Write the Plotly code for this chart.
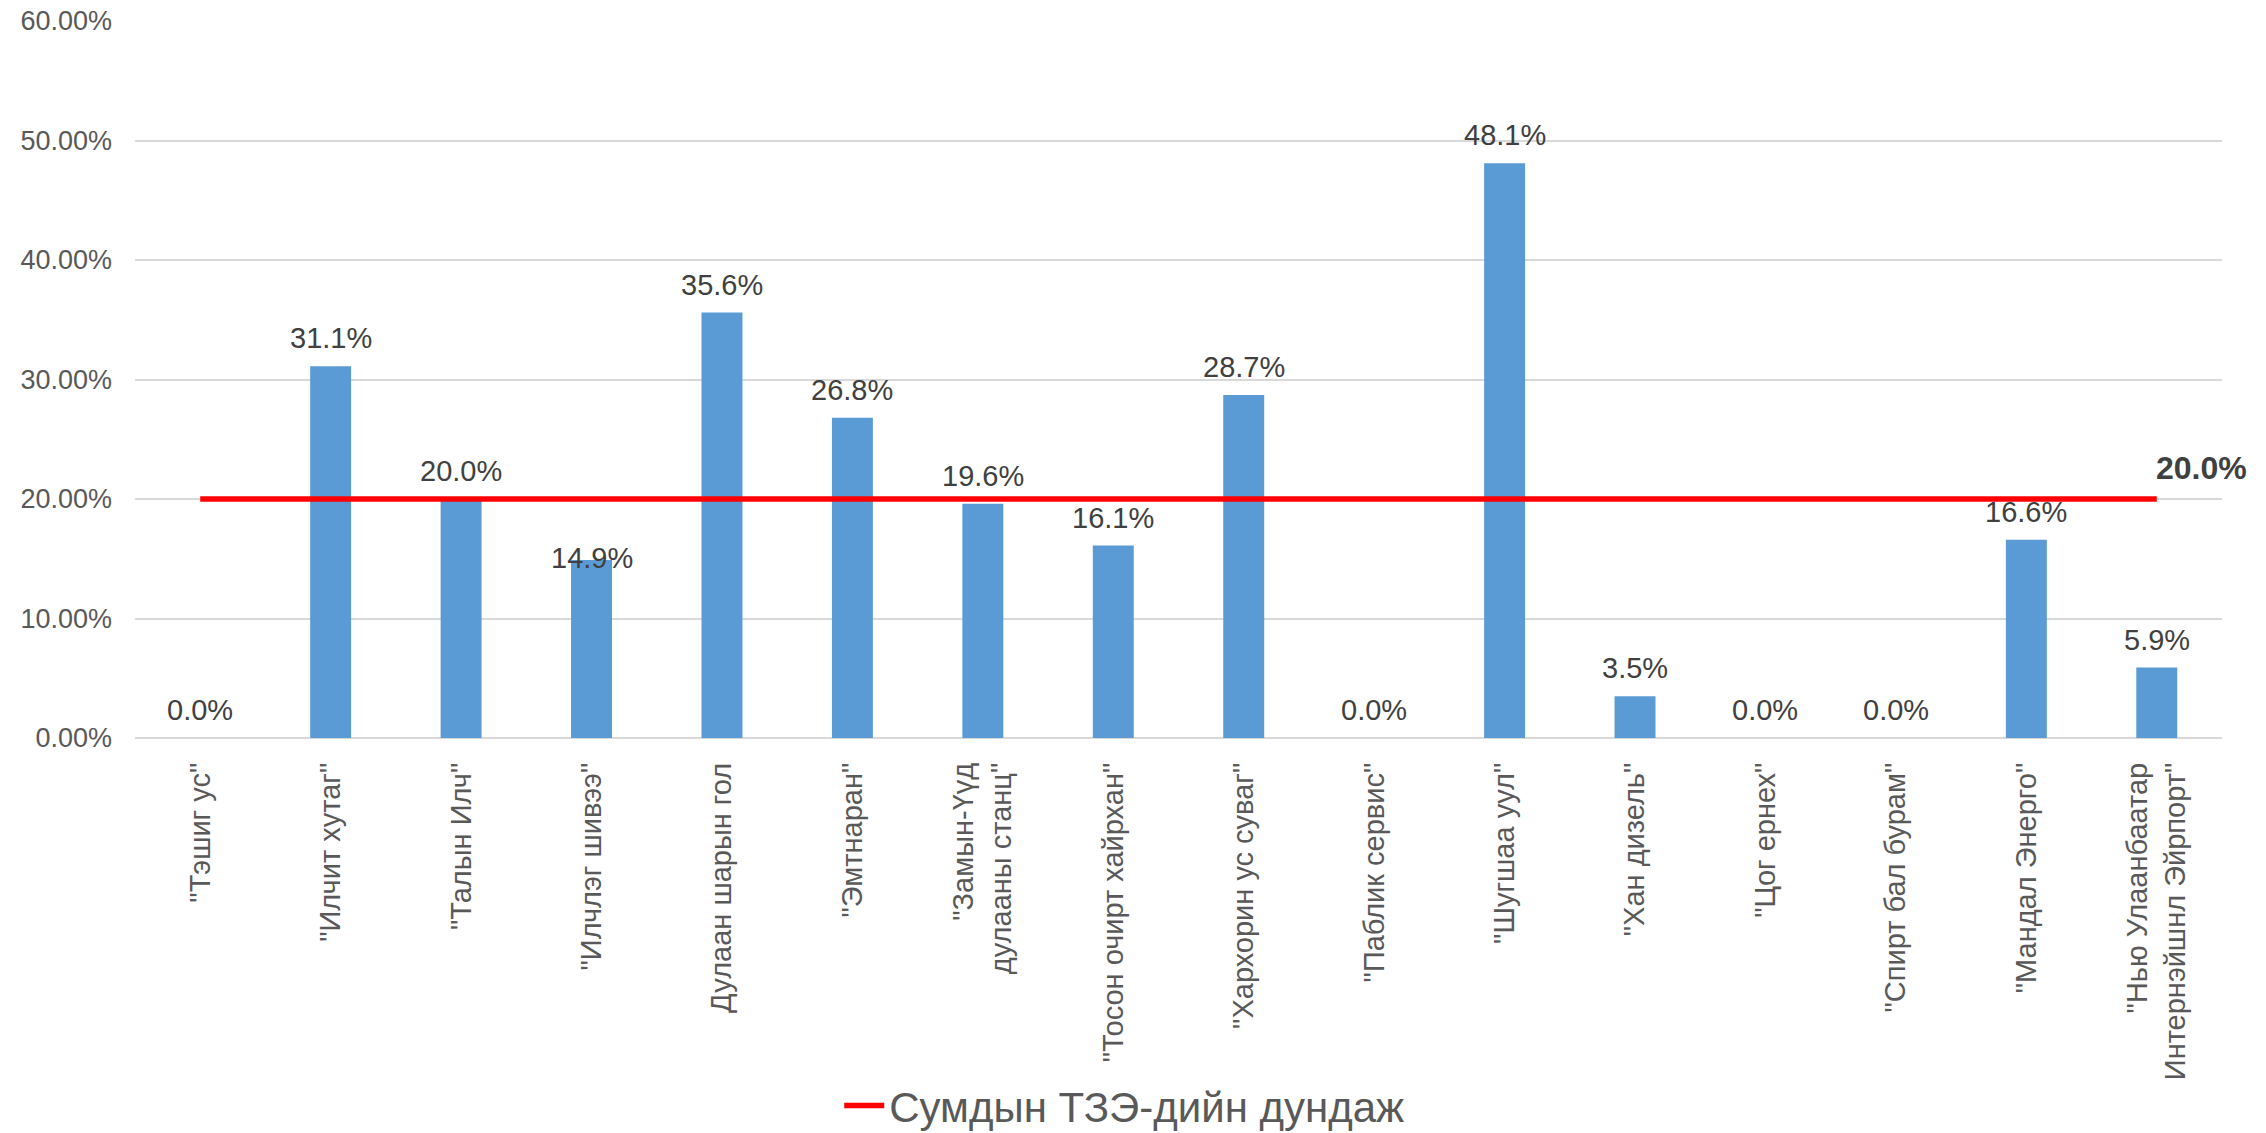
import plotly.graph_objects as go

categories = [
    '"Тэшиг ус"',
    '"Илчит хутаг"',
    '"Талын Илч"',
    '"Илчлэг шивээ"',
    'Дулаан шарын гол',
    '"Эмтнаран"',
    '"Замын-Үүд<br>дулааны станц"',
    '"Тосон очирт хайрхан"',
    '"Хархорин ус суваг"',
    '"Паблик сервис"',
    '"Шугшаа уул"',
    '"Хан дизель"',
    '"Цог ернех"',
    '"Спирт бал бурам"',
    '"Мандал Энерго"',
    '"Нью Улаанбаатар<br>Интернэйшнл Эйрпорт"',
]
values = [0.0, 0.311, 0.200, 0.149, 0.356, 0.268, 0.196, 0.161, 0.287, 0.0,
          0.481, 0.035, 0.0, 0.0, 0.166, 0.059]
average = [0.200] * len(categories)
legend_name = "Сумдын ТЗЭ-дийн дундаж"
y_ticks = [0, 0.1, 0.2, 0.3, 0.4, 0.5, 0.6]

FONT = "Arial, Liberation Sans, sans-serif"

fig = go.Figure()
fig.add_trace(go.Bar(
    x=categories, y=values,
    marker=dict(color="#5B9BD5", line=dict(width=0)),
    showlegend=False,
    hoverinfo="x+y",
))
fig.add_trace(go.Scatter(
    x=categories, y=average,
    mode="lines",
    name=legend_name,
    line=dict(color="#FF0000", width=5.5),
    cliponaxis=False,
))

# label for the last point of the average line
fig.add_annotation(
    x=categories[-1], y=average[-1], text=f"<b>{average[-1]*100:.1f}%</b>",
    showarrow=False, xanchor="left", yanchor="bottom", xshift=-3, yshift=11,
    font=dict(family=FONT, size=32, color="#404040"),
)

# data labels above bars (the 4th label sits lower, overlapping its bar, as in the original)
lowered_label = 3
for i, (c, v) in enumerate(zip(categories, values)):
    fig.add_annotation(
        x=c, y=v, text=f"{v*100:.1f}%", showarrow=False,
        xanchor="center", yanchor="bottom",
        yshift=-16 if i == lowered_label else 10,
        font=dict(family=FONT, size=29, color="#404040"),
    )

fig.update_layout(
    width=2266, height=1133,
    margin=dict(l=135, r=44, t=21, b=395),
    paper_bgcolor="white", plot_bgcolor="white",
    bargap=0.686,
    font=dict(family=FONT, color="#595959"),
    legend=dict(
        orientation="h", x=0.474, xanchor="center",
        yref="container", y=0.024, yanchor="middle",
        font=dict(family=FONT, size=42, color="#595959"),
        itemwidth=40,
    ),
)
fig.update_yaxes(
    range=[0, 0.6], tickvals=y_ticks, tickformat=".2%",
    showgrid=True, gridcolor="#D9D9D9", gridwidth=1.5,
    zeroline=True, zerolinecolor="#D9D9D9", zerolinewidth=1.5,
    showline=False, ticks="", automargin=False,
    tickfont=dict(family=FONT, size=27, color="#595959"),
    ticklabelstandoff=22,
)
fig.update_xaxes(
    range=[-0.5, len(categories) - 0.5],
    tickangle=-90, showgrid=False, showline=False, ticks="", automargin=False,
    tickfont=dict(family=FONT, size=29, color="#595959"),
    ticklabelstandoff=18,
)

fig.write_html(
    "out.html",
    config=dict(displayModeBar=False),
    post_script="document.body.style.margin='0';document.body.style.overflow='hidden';",
)
